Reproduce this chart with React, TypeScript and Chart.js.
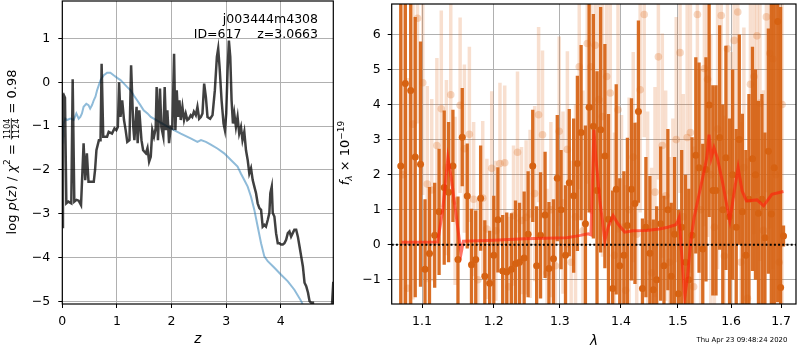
import React, { useEffect, useRef } from 'react';
import { Chart, registerables } from 'chart.js';

Chart.register(...registerables);

const FONT = "'DejaVu Sans', 'Liberation Sans', sans-serif";
const TICK_PX = 12.5;

// ---------------- left panel: redshift PDF ----------------
const zTicks = [0, 1, 2, 3, 4];
const logpTicks = [-5, -4, -3, -2, -1, 0, 1];

const zPdf = [0.000, 0.012, 0.025, 0.049, 0.074, 0.110, 0.165, 0.190, 0.220, 0.260,
  0.300, 0.343, 0.390, 0.420, 0.450, 0.480, 0.510, 0.576, 0.600, 0.625,
  0.670, 0.700, 0.720, 0.750, 0.820, 0.850, 0.910, 0.956, 0.990, 1.017,
  1.040, 1.066, 1.097, 1.130, 1.160, 1.190, 1.230, 1.260, 1.300, 1.320,
  1.360, 1.380, 1.410, 1.450, 1.480, 1.530, 1.560, 1.590, 1.620, 1.648,
  1.679, 1.710, 1.728, 1.752, 1.789, 1.814, 1.850, 1.875, 1.900, 1.924,
  1.955, 1.985, 2.016, 2.047, 2.071, 2.096, 2.120, 2.145, 2.169, 2.200,
  2.230, 2.260, 2.290, 2.320, 2.353, 2.380, 2.410, 2.445, 2.475, 2.506,
  2.537, 2.567, 2.598, 2.629, 2.659, 2.708, 2.751, 2.794, 2.831, 2.855,
  2.880, 2.917, 2.953, 2.978, 3.002, 3.027, 3.051, 3.076, 3.100, 3.125,
  3.149, 3.180, 3.210, 3.240, 3.272, 3.300, 3.333, 3.364, 3.395, 3.425,
  3.456, 3.487, 3.517, 3.548, 3.578, 3.609, 3.640, 3.670, 3.700, 3.730,
  3.762, 3.792, 3.810, 3.836, 3.854, 3.884, 3.915, 3.946, 3.976, 4.007,
  4.038, 4.068, 4.099, 4.130, 4.160, 4.190, 4.220, 4.250, 4.283, 4.314,
  4.344, 4.375, 4.406, 4.436, 4.467, 4.500, 4.528, 4.559, 4.590, 4.620,
  4.700, 4.800, 4.900, 4.940, 4.963];
const logPdf = [-3.30, -0.30, -0.28, -0.35, -2.76, -2.72, -2.76, 0.07, -2.72, -2.68,
  -2.70, -2.80, -1.39, -2.23, -1.62, -2.27, -2.27, -2.27, -2.00, -1.55,
  -1.32, -1.32, 0.42, -1.24, -1.24, -1.13, -1.17, -1.05, -1.09, -1.02,
  0.00, -0.79, -0.41, -0.86, -1.09, -1.36, -1.32, 0.39, -1.02, -1.32,
  -0.56, -1.39, -0.64, -1.32, -1.55, -1.62, -1.50, -1.81, -1.70, -1.09,
  -1.24, -1.05, -0.11, -1.32, -0.14, -1.02, -1.24, -0.11, -1.09, -0.64,
  -1.39, -1.02, -1.05, 0.65, -1.09, -0.18, -0.79, -0.41, -0.86, -0.56,
  -0.86, -0.71, -0.86, -0.83, -0.75, -0.79, -0.67, -0.75, -0.56, -0.83,
  -0.79, -0.71, -0.03, -0.33, -0.79, -0.83, -0.75, -0.18, 0.58, 0.77,
  0.35, -0.41, -0.94, -1.09, -0.71, 0.27, 0.95, 0.58, -0.41, -0.94,
  -0.71, -1.02, -0.79, -1.17, -1.02, -1.32, -1.13, -1.55, -1.77, -2.08,
  -1.96, -2.23, -2.38, -2.53, -2.76, -2.87, -2.91, -3.29, -3.25, -3.29,
  -3.14, -2.98, -2.53, -2.38, -2.98, -3.06, -3.44, -3.67, -3.67, -3.70,
  -3.70, -3.67, -3.59, -3.44, -3.40, -3.52, -3.44, -3.36, -3.36, -3.52,
  -3.74, -3.97, -4.20, -4.57, -4.65, -4.80, -4.99, -5.03, -5.03, -5.40,
  -5.60, -5.70, -5.50, -5.05, -4.55];

const zPrior = [0.000, 0.020, 0.055, 0.086, 0.147, 0.208, 0.257, 0.300, 0.330, 0.360,
  0.390, 0.440, 0.480, 0.510, 0.545, 0.576, 0.607, 0.637, 0.668, 0.700,
  0.760, 0.820, 0.880, 0.940, 1.005, 1.066, 1.130, 1.190, 1.250, 1.310,
  1.370, 1.430, 1.490, 1.560, 1.620, 1.800, 1.985, 2.170, 2.350, 2.475,
  2.540, 2.630, 2.720, 2.840, 2.965, 3.088, 3.210, 3.270, 3.333, 3.395,
  3.456, 3.517, 3.578, 3.640, 3.700, 3.762, 3.884, 4.007, 4.130, 4.250,
  4.375, 4.450];
const logPrior = [-1.40, -0.95, -0.83, -0.86, -0.83, -0.86, -0.71, -0.83, -0.79, -0.71,
  -0.56, -0.49, -0.52, -0.60, -0.52, -0.41, -0.33, -0.18, -0.07, 0.05,
  0.16, 0.22, 0.22, 0.16, 0.10, 0.05, -0.03, -0.11, -0.18, -0.30,
  -0.41, -0.52, -0.64, -0.71, -0.79, -0.92, -1.05, -1.17, -1.28, -1.36,
  -1.32, -1.36, -1.42, -1.51, -1.62, -1.77, -1.92, -2.08, -2.23, -2.38,
  -2.61, -2.91, -3.29, -3.67, -3.97, -4.08, -4.23, -4.39, -4.54, -4.73,
  -4.99, -5.20];

const fieldName = 'j003444m4308';
const objectId = '617';
const zBest = '3.0663';
const chi2Num = '1104';
const chi2Den = '1124';
const chi2Ratio = '0.98';
const stamp = 'Thu Apr 23 09:48:24 2020';

// ---------------- right panel: spectrum ----------------
const waveTicks = [1.1, 1.2, 1.3, 1.4, 1.5, 1.6, 1.7];
const fluxTicks = [-1, 0, 1, 2, 3, 4, 5, 6];

const waveA = [1.072, 1.078, 1.085, 1.091, 1.098, 1.104, 1.110, 1.117, 1.123, 1.130,
  1.136, 1.142, 1.149, 1.155, 1.162, 1.168, 1.174, 1.181, 1.187, 1.194,
  1.200, 1.206, 1.213, 1.219, 1.226, 1.232, 1.238, 1.245, 1.251, 1.258,
  1.264, 1.270, 1.277, 1.283, 1.290, 1.296, 1.302, 1.309, 1.315, 1.322,
  1.328, 1.334, 1.341, 1.347, 1.354, 1.360, 1.366, 1.373, 1.379, 1.386,
  1.392, 1.398, 1.405, 1.411, 1.418, 1.424, 1.430, 1.437, 1.443, 1.450,
  1.456, 1.462, 1.469, 1.475, 1.482, 1.488, 1.494, 1.501, 1.507, 1.514,
  1.520, 1.526, 1.533, 1.539, 1.546, 1.552, 1.558, 1.565, 1.571, 1.578,
  1.584, 1.590, 1.597, 1.603, 1.610, 1.616, 1.622, 1.629, 1.635, 1.642,
  1.648, 1.654, 1.661, 1.667, 1.674, 1.680, 1.686, 1.693, 1.699, 1.705];
const fluxA = [2.25, 4.6, 4.4, 2.5, 2.3, -0.7, -0.25, 0.27, 0.94, 1.63,
  1.5, 2.25, -0.42, 3.07, 1.39, -0.57, -0.42, 1.33, -0.9, -1.1,
  -0.3, 0.71, -0.75, -0.78, -0.7, -0.54, -0.5, -0.38, 0.3, 2.25,
  -0.6, 0.27, 0.85, -0.68, -0.4, 1.9, 1.0, -0.3, 1.77, 1.4,
  2.32, 3.2, 0.6, 3.92, 3.38, 1.55, 3.28, 2.53, 0.73, -1.25,
  1.58, -0.6, -0.3, 0.55, 1.58, 1.18, 3.8, -1.25, 0.5, -0.24,
  -1.28, -1.0, 0.6, -0.6, 1.0, -0.9, 0.3, -1.4, 0.5, -0.5,
  -1.0, 0.27, 2.55, 2.2, -0.12, 2.15, 3.99, 1.55, 1.55, 3.06,
  1.0, 2.48, 0.8, 2.0, 0.5, 3.0, 0.94, -0.3, 1.3, 2.45,
  2.0, 0.9, 1.3, 0.2, 2.67, 0.88, 2.2, 6.37, -1.22, 0.25];
const errA = [8, 8, 7, 4, 3.5, 2.0, 1.9, 1.5, 1.8, 2.2,
  2.0, 1.6, 1.8, 1.4, 1.5, 1.6, 1.4, 1.5, 1.6, 1.5,
  1.7, 1.5, 1.6, 1.7, 1.6, 1.8, 1.7, 1.9, 1.8, 1.6,
  1.7, 1.8, 1.8, 1.9, 1.7, 1.8, 1.7, 2.0, 2.1, 2.2,
  2.5, 2.5, 2.8, 3.0, 3.2, 3.4, 3.5, 3.2, 3.0, 2.8,
  3.0, 2.5, 2.4, 2.5, 2.6, 2.3, 2.6, 2.0, 2.0, 2.2,
  2.0, 2.1, 2.2, 2.0, 2.3, 2.1, 2.2, 2.4, 2.2, 2.5,
  2.6, 2.8, 2.8, 3.0, 3.0, 3.2, 3.2, 3.0, 3.0, 3.2,
  3.0, 3.2, 2.8, 3.0, 2.8, 3.0, 2.8, 3.0, 3.0, 3.2,
  3.0, 3.2, 3.0, 3.0, 3.5, 6, 7, 8, 8, 0.3];

const waveB = [1.075, 1.081, 1.088, 1.094, 1.101, 1.107, 1.113, 1.120, 1.126, 1.133,
  1.139, 1.145, 1.152, 1.158, 1.165, 1.171, 1.177, 1.184, 1.190, 1.197,
  1.203, 1.209, 1.216, 1.222, 1.229, 1.235, 1.241, 1.248, 1.254, 1.261,
  1.267, 1.273, 1.280, 1.286, 1.293, 1.299, 1.305, 1.312, 1.318, 1.325,
  1.331, 1.337, 1.344, 1.350, 1.357, 1.363, 1.369, 1.376, 1.382, 1.389,
  1.395, 1.401, 1.408, 1.414, 1.421, 1.427, 1.433, 1.440, 1.446, 1.453,
  1.459, 1.465, 1.472, 1.478, 1.485, 1.491, 1.497, 1.504, 1.510, 1.517,
  1.523, 1.529, 1.536, 1.542, 1.549, 1.555, 1.561, 1.568, 1.574, 1.581,
  1.587, 1.593, 1.600, 1.606, 1.613, 1.619, 1.625, 1.632, 1.638, 1.645,
  1.651, 1.657, 1.664, 1.670, 1.677, 1.683, 1.689, 1.696, 1.702];
const fluxB = [2.0, -1.24, 3.44, 6.46, 4.62, 1.73, 1.56, 2.83, 3.88, 2.2,
  4.28, 1.25, 3.98, 2.74, 3.15, 1.3, -1.0, 1.33, 0.45, 2.18,
  0.4, 2.32, 2.34, -1.2, 0.83, 2.64, 0.69, 0.78, 0.88, 1.46,
  3.71, 3.14, -0.8, 1.0, -0.6, 3.24, 1.2, 2.72, -0.5, 0.8,
  5.08, 0.4, 5.74, 5.08, 5.69, 4.14, 3.66, 4.8, 4.33, -0.3,
  3.85, 0.5, -1.3, 1.0, 2.5, 0.3, 4.42, 6.57, 0.6, -0.8,
  1.5, 5.36, 2.83, 1.4, -0.5, 0.4, 3.0, 5.48, 0.8, 3.06,
  3.2, -1.2, 6.57, 1.0, 5.03, 4.72, 2.0, 0.5, 3.3, 6.54,
  -0.32, 5.59, 1.5, 5.83, 6.64, -0.5, 2.2, -1.53, 4.58, 4.8,
  5.96, 4.04, 0.41, 6.5, 5.46, 5.3, 2.0, -0.5, 4.0];
const errB = [7, 6, 5, 3, 3.2, 2.8, 2.6, 2.5, 2.8, 2.5,
  2.6, 2.4, 2.5, 2.4, 2.5, 2.2, 2.3, 2.2, 2.0, 2.2,
  2.0, 2.3, 2.2, 2.0, 2.0, 2.3, 2.1, 2.2, 2.4, 2.5,
  2.5, 2.4, 2.4, 2.5, 2.6, 2.7, 2.6, 2.8, 2.9, 3.2,
  3.5, 4.0, 4.0, 4.2, 4.2, 4.0, 4.0, 4.0, 3.8, 3.5,
  3.5, 3.2, 3.0, 3.2, 3.0, 3.2, 3.5, 3.5, 3.2, 3.0,
  3.0, 3.5, 3.2, 3.0, 3.0, 3.2, 3.5, 4.0, 3.5, 3.8,
  4.0, 4.0, 4.5, 4.0, 4.5, 4.5, 4.0, 4.0, 4.0, 4.5,
  4.0, 4.5, 4.0, 4.5, 4.5, 4.0, 4.0, 4.0, 4.5, 4.5,
  4.5, 4.5, 4.0, 5.0, 5.0, 6.0, 7.0, 8.0, 8.0];

const waveModel = [1.073, 1.121, 1.128, 1.135, 1.1396, 1.1486, 1.1533, 1.1566, 1.200, 1.245,
  1.311, 1.331, 1.3456, 1.350, 1.3549, 1.3581, 1.3647, 1.373, 1.3784, 1.3868,
  1.3951, 1.4064, 1.4205, 1.4434, 1.4668, 1.4816, 1.4964, 1.500, 1.5025, 1.5085,
  1.5127, 1.5177, 1.5237, 1.5299, 1.5391, 1.5485, 1.5535, 1.5578, 1.562, 1.5672,
  1.5735, 1.583, 1.5912, 1.5976, 1.6053, 1.6137, 1.6215, 1.630, 1.651, 1.6643,
  1.6811, 1.7049];
const fluxModel = [0.07, 0.08, 1.0, 2.48, 1.92, 0.5, -0.25, 0.1, 0.13, 0.17,
  0.2, 0.26, 0.31, 0.28, 3.28, 2.48, 1.25, 0.12, 0.5, 0.83,
  0.59, 0.36, 0.4, 0.41, 0.45, 0.5, 0.57, 0.68, 0.78, -0.63,
  -1.48, -0.92, 0.12, 0.78, 1.44, 2.1, 2.48, 3.14, 2.48, 2.77,
  2.48, 1.82, 1.16, 0.69, 1.44, 2.2, 1.54, 1.25, 1.28, 1.11,
  1.44, 1.52];

const zeroWave = [1.0603, 1.731];
const zeroFlux = [0, 0];

// ---------------- helpers ----------------
const pts = (xs: number[], ys: number[]) => xs.map((x, i) => ({ x, y: ys[i] }));
const fmt = (v: number, d = 0) => (v < 0 ? '\u2212' : '') + Math.abs(v).toFixed(d);

type Run = { t?: string; size: number; italic?: boolean; dy?: number; frac?: [string, string] };

function fontOf(r: Run) {
  return `${r.italic ? 'italic ' : ''}${r.size}px ${FONT}`;
}
function runW(ctx: CanvasRenderingContext2D, r: Run) {
  ctx.font = fontOf(r);
  if (r.frac) return Math.max(ctx.measureText(r.frac[0]).width, ctx.measureText(r.frac[1]).width) + 2;
  return ctx.measureText(r.t || '').width;
}
function drawRich(ctx: CanvasRenderingContext2D, runs: Run[], x: number, y: number, align: string) {
  const ws = runs.map((r) => runW(ctx, r));
  const total = ws.reduce((a, b) => a + b, 0);
  let cx = align === 'center' ? x - total / 2 : align === 'right' ? x - total : x;
  ctx.textBaseline = 'alphabetic';
  runs.forEach((r, i) => {
    ctx.font = fontOf(r);
    if (r.frac) {
      ctx.textAlign = 'center';
      ctx.fillText(r.frac[0], cx + ws[i] / 2, y - 6);
      ctx.fillText(r.frac[1], cx + ws[i] / 2, y + 3.5);
      ctx.fillRect(cx + 0.5, y - 4.6, ws[i] - 1, 0.8);
    } else {
      ctx.textAlign = 'left';
      ctx.fillText(r.t || '', cx, y + (r.dy || 0));
    }
    cx += ws[i];
  });
}

const errorBars = {
  id: 'errorBars',
  beforeDatasetDraw(chart: any, args: any) {
    const ds: any = chart.data.datasets[args.index];
    if (!ds.errs) return;
    const { ctx, chartArea: a, scales } = chart;
    const xs = scales.x;
    const ys = scales.y;
    ctx.save();
    ctx.beginPath();
    ctx.rect(a.left, a.top, a.right - a.left, a.bottom - a.top);
    ctx.clip();
    ctx.strokeStyle = ds.errColor;
    ctx.lineWidth = ds.errWidth;
    ds.data.forEach((p: any, i: number) => {
      const x = xs.getPixelForValue(p.x);
      const y1 = ys.getPixelForValue(p.y - ds.errs[i]);
      const y2 = ys.getPixelForValue(p.y + ds.errs[i]);
      ctx.beginPath();
      ctx.moveTo(x, y1);
      ctx.lineTo(x, y2);
      ctx.stroke();
    });
    ctx.restore();
  },
};

const frame = {
  id: 'frame',
  afterDraw(chart: any) {
    const { ctx, chartArea: a } = chart;
    ctx.save();
    ctx.strokeStyle = '#000';
    ctx.lineWidth = 1.2;
    ctx.strokeRect(a.left, a.top, a.right - a.left, a.bottom - a.top);
    ctx.restore();
  },
};

const fitW = (w: number) => (s: any) => {
  s.width = w;
  s.paddingTop = 0; s.paddingBottom = 0; s.paddingLeft = 0; s.paddingRight = 0;
};
const fitH = (h: number) => (s: any) => {
  s.height = h;
  s.paddingTop = 0; s.paddingBottom = 0; s.paddingLeft = 0; s.paddingRight = 0;
};
const gridOpts = { color: '#b0b0b0', lineWidth: 1, drawTicks: true, tickLength: 4, tickColor: '#000', tickWidth: 1 };
const tickFont = { family: FONT, size: TICK_PX };

function leftConfig(): any {
  const labels = {
    id: 'leftLabels',
    afterDraw(chart: any) {
      const ctx = chart.ctx;
      ctx.save();
      ctx.fillStyle = '#000';
      ctx.font = `12.5px ${FONT}`;
      ctx.textAlign = 'right';
      ctx.textBaseline = 'alphabetic';
      ctx.fillText(fieldName, 318, 23);
      ctx.fillText(`ID=${objectId}    z=${zBest}`, 318, 38);
      drawRich(ctx, [{ t: 'z', size: 13.5, italic: true }], 197.8, 343, 'center');
      ctx.translate(15.5, 152);
      ctx.rotate(-Math.PI / 2);
      drawRich(ctx, [
        { t: 'log ', size: 13 },
        { t: 'p', size: 13, italic: true },
        { t: '(', size: 13 },
        { t: 'z', size: 13, italic: true },
        { t: ')', size: 13 },
        { t: ' / ', size: 13 },
        { t: 'χ', size: 13, italic: true },
        { t: '2', size: 9, dy: -5.5 },
        { t: ' = ', size: 13 },
        { frac: [chi2Num, chi2Den], size: 8 },
        { t: ' = ' + chi2Ratio, size: 13 },
      ], 0, 0, 'center');
      ctx.restore();
    },
  };
  return {
    type: 'scatter',
    data: {
      datasets: [
        { data: pts(zPdf, logPdf), showLine: true, borderColor: 'rgba(0,0,0,0.75)', borderWidth: 2.5, pointRadius: 0, tension: 0, order: 1 },
        { data: pts(zPrior, logPrior), showLine: true, borderColor: 'rgba(31,119,180,0.5)', borderWidth: 2, pointRadius: 0, tension: 0, order: 2 },
      ],
    },
    options: {
      responsive: false,
      animation: false,
      events: [],
      layout: { padding: { left: 0, right: 6.7, top: 1, bottom: 0 } },
      plugins: { legend: { display: false }, tooltip: { enabled: false } },
      scales: {
        x: {
          type: 'linear', min: 0, max: 4.963, bounds: 'data',
          afterBuildTicks: (s: any) => { s.ticks = zTicks.map((v) => ({ value: v })); },
          afterFit: fitH(46),
          grid: gridOpts, border: { display: false },
          ticks: { font: tickFont, color: '#000', padding: 6, maxRotation: 0, autoSkip: false, callback: (v: number) => fmt(v) },
        },
        y: {
          type: 'linear', min: -5.056, max: 1.854, bounds: 'data',
          afterBuildTicks: (s: any) => { s.ticks = logpTicks.map((v) => ({ value: v })); },
          afterFit: fitW(62.3),
          grid: gridOpts, border: { display: false },
          ticks: { font: tickFont, color: '#000', padding: 8, autoSkip: false, callback: (v: number) => fmt(v) },
        },
      },
    },
    plugins: [frame, labels],
  };
}

function rightConfig(): any {
  const labels = {
    id: 'rightLabels',
    afterDraw(chart: any) {
      const ctx = chart.ctx;
      ctx.save();
      ctx.fillStyle = '#000';
      ctx.font = `6.9px ${FONT}`;
      ctx.textAlign = 'right';
      ctx.textBaseline = 'alphabetic';
      ctx.fillText(stamp, 457.3, 342);
      drawRich(ctx, [{ t: 'λ', size: 13.5, italic: true }], 264, 345, 'center');
      ctx.translate(19, 153);
      ctx.rotate(-Math.PI / 2);
      drawRich(ctx, [
        { t: 'f', size: 13, italic: true },
        { t: 'λ', size: 9, italic: true, dy: 3 },
        { t: ' × 10', size: 13 },
        { t: '\u221219', size: 9, dy: -5.5 },
      ], 0, 0, 'center');
      ctx.restore();
    },
  };
  return {
    type: 'scatter',
    data: {
      datasets: [
        {
          data: pts(waveB, fluxB), errs: errB, errColor: 'rgba(222,110,35,0.22)', errWidth: 3.5,
          pointRadius: 3.8, pointBackgroundColor: 'rgba(222,110,35,0.28)', pointBorderWidth: 0, order: 4,
        },
        {
          data: pts(waveA, fluxA), errs: errA, errColor: 'rgba(214,98,18,0.92)', errWidth: 3.3,
          pointRadius: 3.5, pointBackgroundColor: 'rgb(214,98,18)', pointBorderWidth: 0, order: 3,
        },
        { data: pts(waveModel, fluxModel), showLine: true, borderColor: 'rgba(255,30,10,0.62)', borderWidth: 3, pointRadius: 0, tension: 0, order: 2 },
        { data: pts(zeroWave, zeroFlux), showLine: true, borderColor: '#000', borderWidth: 1.8, borderDash: [2, 2.2], pointRadius: 0, order: 1 },
      ],
    },
    options: {
      responsive: false,
      animation: false,
      events: [],
      layout: { padding: { left: 0, right: 0.7, top: 1.7, bottom: 0 } },
      plugins: { legend: { display: false }, tooltip: { enabled: false } },
      scales: {
        x: {
          type: 'logarithmic', min: 1.0603, max: 1.731, bounds: 'data',
          afterBuildTicks: (s: any) => { s.ticks = waveTicks.map((v) => ({ value: v })); },
          afterFit: fitH(46),
          grid: gridOpts, border: { display: false },
          ticks: { font: tickFont, color: '#000', padding: 6, maxRotation: 0, autoSkip: false, callback: (v: number) => fmt(v, 1) },
        },
        y: {
          type: 'linear', min: -1.69, max: 6.868, bounds: 'data',
          afterBuildTicks: (s: any) => { s.ticks = fluxTicks.map((v) => ({ value: v })); },
          afterFit: fitW(61.7),
          grid: gridOpts, border: { display: false },
          ticks: { font: tickFont, color: '#000', padding: 7, autoSkip: false, callback: (v: number) => fmt(v) },
        },
      },
    },
    plugins: [errorBars, frame, labels],
  };
}

export default function App() {
  const leftRef = useRef<HTMLCanvasElement>(null);
  const rightRef = useRef<HTMLCanvasElement>(null);
  useEffect(() => {
    const c1 = new Chart(leftRef.current as HTMLCanvasElement, leftConfig());
    const c2 = new Chart(rightRef.current as HTMLCanvasElement, rightConfig());
    return () => {
      c1.destroy();
      c2.destroy();
    };
  }, []);
  return (
    <div style={{ position: 'fixed', left: 0, top: 0, width: 800, height: 350, background: '#fff', overflow: 'hidden' }}>
      <canvas ref={leftRef} width={340} height={350} style={{ position: 'absolute', left: 0, top: 0, width: 340, height: 350 }} />
      <canvas ref={rightRef} width={470} height={350} style={{ position: 'absolute', left: 330, top: 0, width: 470, height: 350 }} />
    </div>
  );
}
